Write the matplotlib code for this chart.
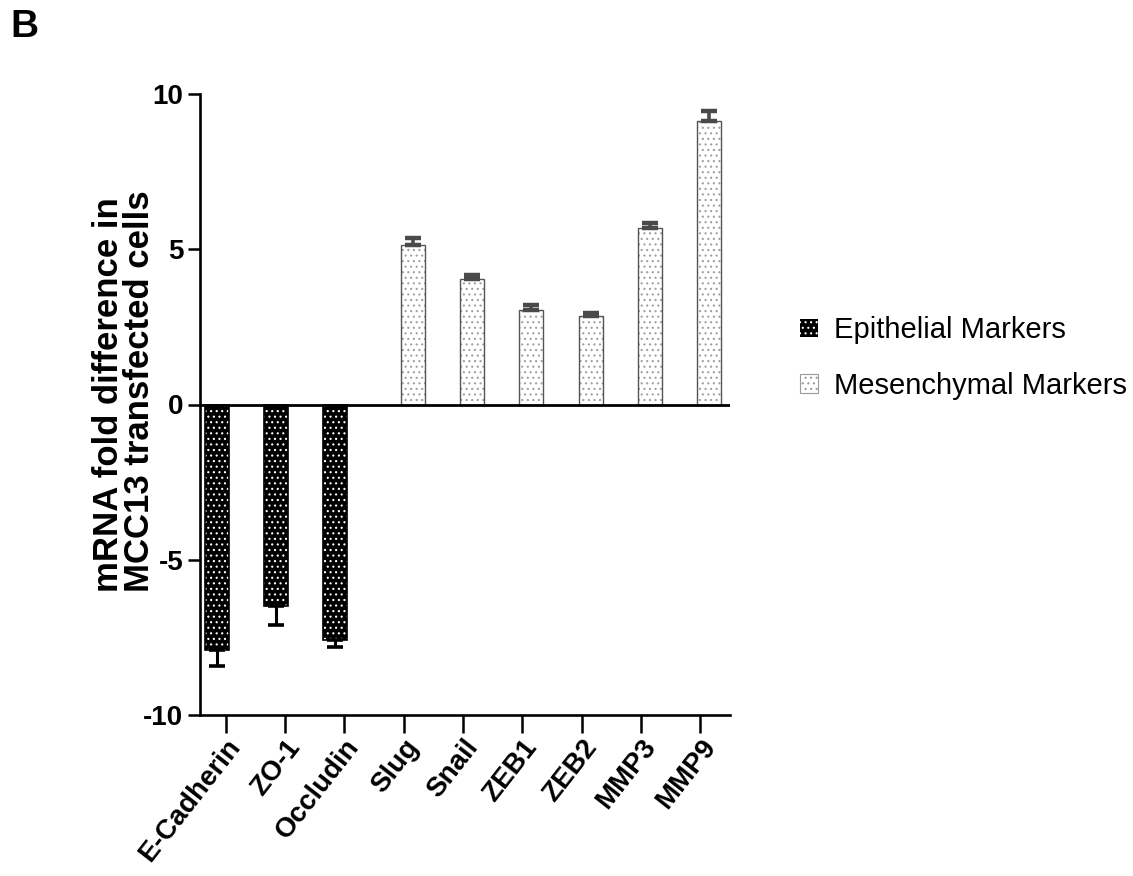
import matplotlib
matplotlib.use("Agg")
import matplotlib.pyplot as plt
import matplotlib.patches as mpatches
import numpy as np

plt.rcParams['font.family'] = ['Liberation Sans', 'DejaVu Sans']
plt.rcParams['hatch.linewidth'] = 0.8

categories = ["E-Cadherin", "ZO-1", "Occludin", "Slug", "Snail", "ZEB1", "ZEB2", "MMP3", "MMP9"]
epi_names = ["E-Cadherin", "ZO-1", "Occludin"]
epi_values = [-7.90, -6.50, -7.58]
epi_err = [0.52, 0.60, 0.22]
mes_names = ["Slug", "Snail", "ZEB1", "ZEB2", "MMP3", "MMP9"]
mes_values = [5.13, 4.03, 3.03, 2.84, 5.67, 9.12]
mes_err = [0.22, 0.13, 0.16, 0.10, 0.16, 0.32]
yticks = [-10, -5, 0, 5, 10]
ylabel = "mRNA fold difference in\nMCC13 transfected cells"
legend_labels = ["Epithelial Markers", "Mesenchymal Markers"]

W, H = 1133, 876
fig = plt.figure(figsize=(W / 100, H / 100), dpi=100)
ax = fig.add_axes([200 / W, 1 - 715 / H, 530 / W, (715 - 94) / H])

pos = {c: i for i, c in enumerate(categories)}
off = 0.152
bw = 0.40

xe = np.array([pos[c] for c in epi_names]) - off
xm = np.array([pos[c] for c in mes_names]) + off

# Epithelial: black with white dots
ax.bar(xe, epi_values, width=bw, color="black", edgecolor="white", hatch="...", linewidth=0, zorder=2)
ax.bar(xe, epi_values, width=bw, fill=False, edgecolor="black", linewidth=1.2, zorder=3)
ax.errorbar(xe, epi_values, yerr=[epi_err, [0] * 3], fmt="none", ecolor="black",
            elinewidth=2.2, capsize=5.5, capthick=2.6, zorder=4)

# Mesenchymal: white with gray dots
ax.bar(xm, mes_values, width=bw, color="white", edgecolor="#a0a0a0", hatch="...", linewidth=0, zorder=2)
ax.bar(xm, mes_values, width=bw, fill=False, edgecolor="#555555", linewidth=1.0, zorder=3)
ax.errorbar(xm, mes_values, yerr=[[0] * 6, mes_err], fmt="none", ecolor="#4a4a4a",
            elinewidth=2.6, capsize=5.5, capthick=3.2, zorder=4)

ax.axhline(0, color="black", lw=2.0, zorder=5)

ax.set_xlim(-0.433, 8.5)
ax.set_ylim(-10, 10)
ax.set_yticks(yticks)
ax.set_yticklabels([str(t) for t in yticks], fontsize=20, fontweight="bold")
ax.set_xticks(range(len(categories)))
ax.set_xticklabels(categories, rotation=52, ha="right", rotation_mode="anchor",
                   fontsize=20, fontweight="bold")
ax.tick_params(axis="x", length=13, width=1.8, pad=1)
ax.tick_params(axis="y", length=9, width=1.8, pad=3)
for s in ["top", "right"]:
    ax.spines[s].set_visible(False)
for s in ["left", "bottom"]:
    ax.spines[s].set_linewidth(1.9)

fig.text(124 / W, 1 - 592 / H, ylabel, rotation=90, ha="center", va="bottom",
         multialignment="left", fontsize=25, fontweight="bold", linespacing=0.95)

h1 = mpatches.Patch(facecolor="black", edgecolor="white", hatch="...", linewidth=0)
h2 = mpatches.Patch(facecolor="white", edgecolor="#9a9a9a", hatch="...", linewidth=0.8)
leg = fig.legend([h1, h2], legend_labels, loc="center left",
                 bbox_to_anchor=(800 / W, 1 - 358 / H), frameon=False,
                 fontsize=21, handlelength=0.6, handleheight=0.6,
                 handletextpad=0.55, labelspacing=0.95, borderpad=0, borderaxespad=0)

fig.text(10 / W, 1 - 27 / H, "B", fontsize=28, fontweight="bold", va="center", ha="left")

fig.savefig("out.png", dpi=100)
